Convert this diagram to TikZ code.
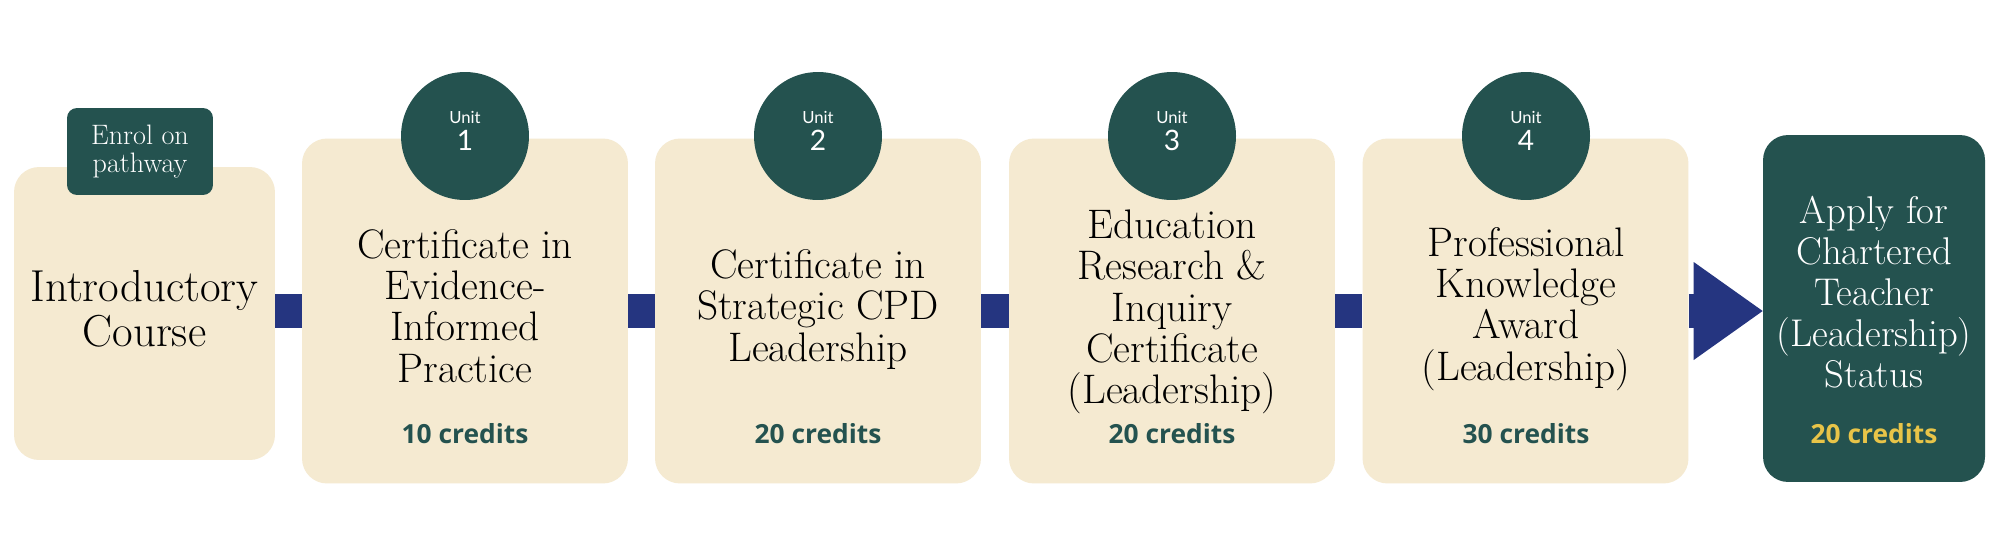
\documentclass[tikz,border=0pt]{standalone}
\usepackage{fontspec}
\newfontfamily\unitfont{Lato}
\newfontfamily\creditfont{Open Sans}

\definecolor{cream}{RGB}{245,234,209}
\definecolor{pine}{RGB}{36,82,79}
\definecolor{pathnavy}{RGB}{37,53,128}
\definecolor{gold}{RGB}{232,196,72}

\begin{document}
\begin{tikzpicture}[x=0.02cm, y=-0.02cm,
    card/.style={fill=cream, rounded corners=0.5cm, minimum width=6.52cm, minimum height=6.9cm, inner sep=0pt},
    goal/.style={fill=pine, rounded corners=0.5cm, minimum width=4.44cm, minimum height=6.94cm, inner sep=0pt},
    tag/.style={fill=pine, rounded corners=0.2cm, minimum width=2.92cm, minimum height=1.74cm, inner sep=0pt},
    disc/.style={circle, fill=pine, minimum size=2.56cm, inner sep=0pt},
    cardtext/.style={align=center, inner sep=0pt, font=\fontsize{23.5}{23.5}\selectfont},
    unitno/.style={align=center, inner sep=0pt, text=white, font=\unitfont\fontsize{9.5}{15.4}\selectfont},
    credit/.style={anchor=base, inner sep=0pt, text=pine, font=\creditfont\bfseries\fontsize{15}{16}\selectfont},
    link/.style={draw=pathnavy, line width=0.68cm}]

% Page
\path[fill=white, use as bounding box] (0,0) rectangle (2000,555);

% Introductory course
\node[card, minimum width=5.22cm, minimum height=5.86cm] (intro) at (144.5,313.5) {};
\node[tag, align=center, text=white, font=\fontsize{16}{16}\selectfont] (enrol) at (140,151.5) {Enrol on\\pathway};
\node[cardtext, font=\fontsize{25.5}{25.5}\selectfont] (introtxt) at (144.5,309) {Introductory\\Course};

% Unit cards
\node[card] (c1) at (465,311) {};
\node[card] (c2) at (818,311) {};
\node[card] (c3) at (1172,311) {};
\node[card] (c4) at (1525.5,311) {};

% Chartered status
\node[goal] (final) at (1874,308.5) {};

% Links
\draw[link] (intro.east |- c1.west) -- (c1.west);
\draw[link] (c1.east) -- (c2.west);
\draw[link] (c2.east) -- (c3.west);
\draw[link] (c3.east) -- (c4.west);
\coordinate (tip) at (c4.east -| final.west);
\coordinate (base) at ([xshift=-1.2cm]tip);
\draw[link] (c4.east) -- (base);
\fill[pathnavy] (tip) -- ++(-69,-49) -- ++(0,98) -- cycle;

% Unit badges
\foreach \n/\x in {1/465, 2/818, 3/1172, 4/1526} {
    \node[disc] (u\n) at (\x,136) {};
    \node[unitno] (ul\n) at (\x,131) {Unit\\{\fontsize{16}{15.4}\selectfont\n}};
}

% Titles
\node[cardtext] (t1) at (465,306) {Certificate in\\Evidence-\\Informed\\Practice};
\node[cardtext] (t2) at (818,309.5) {Certificate in\\Strategic CPD\\Leadership};
\node[cardtext] (t3) at (1172,312) {Education\\Research \&\\Inquiry\\Certificate\\(Leadership)};
\node[cardtext] (t4) at (1526,309) {Professional\\Knowledge\\Award\\(Leadership)};
\node[cardtext, text=white, font=\fontsize{22}{23.3}\selectfont] (t5) at (1874,292) {Apply for\\Chartered\\Teacher\\(Leadership)\\Status};

% Credits
\node[credit] (k1) at (465,443) {10 credits};
\node[credit] (k2) at (818,443) {20 credits};
\node[credit] (k3) at (1172,443) {20 credits};
\node[credit] (k4) at (1526,443) {30 credits};
\node[credit, text=gold] (k5) at (1874,443) {20 credits};

\end{tikzpicture}
\end{document}
